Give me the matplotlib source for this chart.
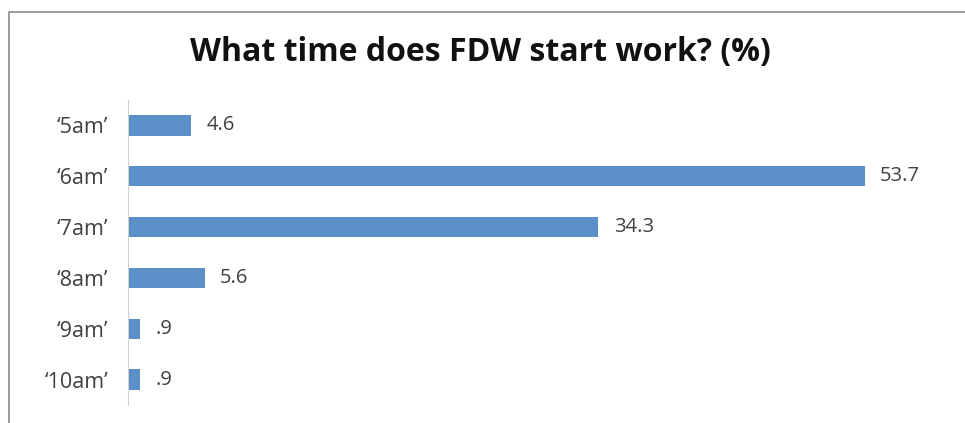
import matplotlib.pyplot as plt
from matplotlib.patches import Rectangle

# data
times = ["\u20185am\u2019", "\u20186am\u2019", "\u20187am\u2019", "\u20188am\u2019", "\u20189am\u2019", "\u201810am\u2019"]
values = [4.6, 53.7, 34.3, 5.6, 0.9, 0.9]
value_labels = ["4.6", "53.7", "34.3", "5.6", ".9", ".9"]

plt.rcParams['font.family'] = ['Open Sans', 'DejaVu Sans']

fig = plt.figure(figsize=(9.65, 4.23), dpi=100)
fig.patch.set_facecolor('white')

# outer chart border (cut off on the right and bottom)
fig.patches.append(Rectangle((9 / 965, -0.1), 1.2, (423 - 12) / 423 + 0.1,
                             transform=fig.transFigure, fill=False,
                             edgecolor='#8c8c8c', linewidth=1.2))

ax = fig.add_axes([128 / 965, 18 / 423, (951 - 128) / 965, (405 - 100) / 423])
y = list(range(len(times)))
ax.barh(y, values, height=0.4, color='#5A8FC8')
ax.set_xlim(0, 60)
ax.set_ylim(len(times) - 0.5, -0.5)
ax.set_yticks(y)
ax.set_yticklabels(times, fontsize=15.5, color='#404040')
ax.tick_params(axis='y', length=0, pad=14)
ax.set_xticks([])
for s in ['top', 'right', 'bottom']:
    ax.spines[s].set_visible(False)
ax.spines['left'].set_color('#d0d0d0')

for yi, v, lab in zip(y, values, value_labels):
    ax.annotate(lab, (v, yi), xytext=(11, 0), textcoords='offset points',
                va='center', ha='left', fontsize=14.5, color='#404040')

fig.text(480 / 965, 1 - 53 / 423, "What time does FDW start work? (%)",
         ha='center', va='center', fontsize=23, fontweight='bold', color='#111111')

fig.savefig('out.png', dpi=100)
